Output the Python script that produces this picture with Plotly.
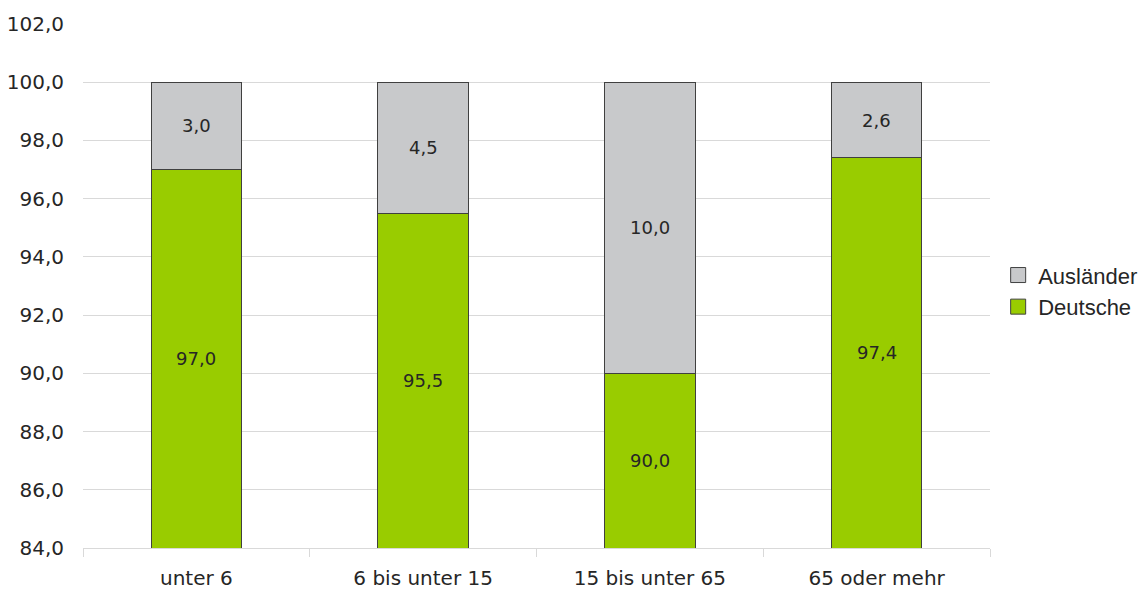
import plotly.graph_objects as go

# Altersgruppen und Anteile (in %)
categories = ["unter 6", "6 bis unter 15", "15 bis unter 65", "65 oder mehr"]
deutsche = [97.0, 95.5, 90.0, 97.4]
auslaender = [3.0, 4.5, 10.0, 2.6]

y_min, y_max = 84.0, 102.0
tick_vals = [84, 86, 88, 90, 92, 94, 96, 98, 100, 102]

green = "#99CC00"
grey = "#C8C9CB"
edge = "#404040"
text_col = "#262626"

fig = go.Figure()
fig.add_trace(go.Bar(
    x=categories, y=deutsche, name="Deutsche",
    marker=dict(color=green, line=dict(color=edge, width=1)),
    width=0.4, showlegend=False,
))
fig.add_trace(go.Bar(
    x=categories, y=auslaender, name="Ausländer",
    marker=dict(color=grey, line=dict(color=edge, width=1)),
    width=0.4, showlegend=False,
))

# Legendeneinträge mit größeren Quadraten
for name, col in [("Deutsche", green), ("Ausländer", grey)]:
    fig.add_trace(go.Scatter(
        x=[None], y=[None], mode="markers", name=name,
        marker=dict(symbol="square", size=15, color=col, line=dict(color=edge, width=1)),
    ))

# Werte mittig im sichtbaren Teil jedes Segments beschriften
def fmt(v):
    return f"{v:.1f}".replace(".", ",")

label_font = dict(family="DejaVu Sans", size=18, color=text_col)
annotations = []
for cat, d, a in zip(categories, deutsche, auslaender):
    annotations.append(dict(x=cat, y=(y_min + d) / 2, text=fmt(d), showarrow=False, font=label_font))
    annotations.append(dict(x=cat, y=d + a / 2, text=fmt(a), showarrow=False, font=label_font))

fig.update_layout(
    barmode="stack",
    width=1143, height=596,
    margin=dict(l=83, r=153, t=24, b=48, autoexpand=False),
    paper_bgcolor="white", plot_bgcolor="white",
    separators=",.",
    annotations=annotations,
    showlegend=True,
    legend=dict(
        x=1.009, y=0.49, xanchor="left", yanchor="middle",
        traceorder="reversed",
        font=dict(family="Liberation Sans", size=22, color=text_col),
        itemwidth=30, tracegroupgap=0,
    ),
    xaxis=dict(
        type="category",
        showline=True, linecolor="#D9D9D9", linewidth=1,
        ticks="outside", tickson="boundaries", ticklen=8, tickcolor="#D9D9D9",
        ticklabelstandoff=12,
        tickfont=dict(family="DejaVu Sans", size=20, color=text_col),
        showgrid=False, automargin=False,
    ),
    yaxis=dict(
        range=[y_min, y_max],
        tickvals=tick_vals,
        tickformat=".1f",
        showgrid=True, gridcolor="#D9D9D9", gridwidth=1,
        zeroline=False, showline=False,
        ticks="", ticklabelstandoff=18,
        tickfont=dict(family="DejaVu Sans", size=20, color=text_col),
        automargin=False,
    ),
)

fig.write_html("out.html")
